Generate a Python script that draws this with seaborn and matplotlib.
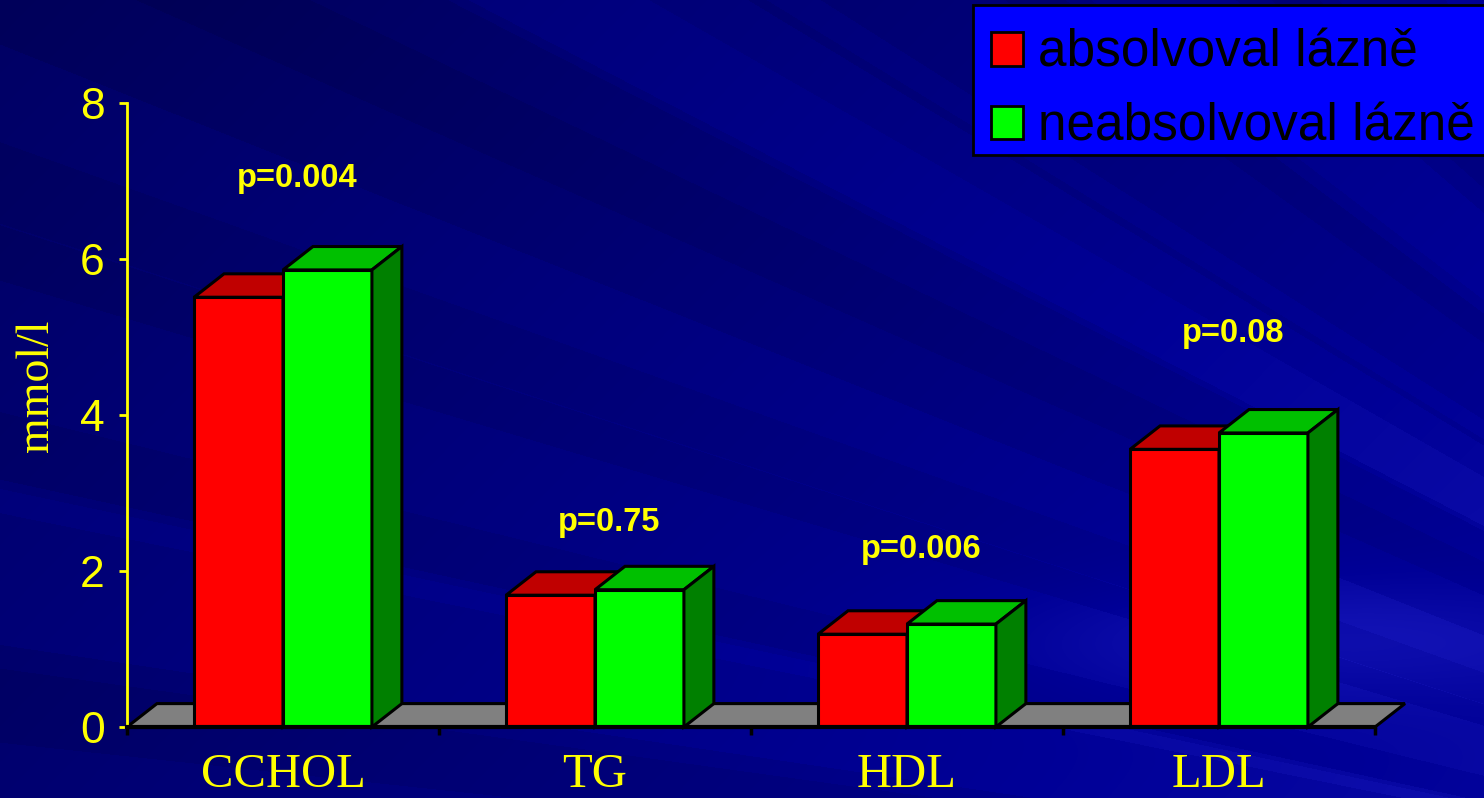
import numpy as np
import pandas as pd
import matplotlib
matplotlib.use('Agg')
import matplotlib.pyplot as plt
import seaborn as sns
from matplotlib.patches import Polygon, Patch, Rectangle

# values
categories = ['CCHOL', 'TG', 'HDL', 'LDL']
groups = ['absolvoval lázně', 'neabsolvoval lázně']
absolvoval = [5.51, 1.69, 1.19, 3.56]
neabsolvoval = [5.86, 1.76, 1.32, 3.77]
p_labels = ['p=0.004', 'p=0.75', 'p=0.006', 'p=0.08']
p_pos = [6.92, 2.51, 2.17, 4.94]
yticks = [0, 2, 4, 6, 8]

front = ['#FF0000', '#00FF00']
top = ['#C00000', '#00C000']
side = ['#800000', '#008000']
yellow = '#FFFF00'

df = pd.DataFrame({
    'param': categories * 2,
    'value': absolvoval + neabsolvoval,
    'group': [groups[0]] * 4 + [groups[1]] * 4,
})

sns.set_style('white')
plt.rcParams['font.family'] = ['Liberation Sans', 'DejaVu Sans']

W, H = 1484, 798
fig = plt.figure(figsize=(W / 100, H / 100), dpi=100)

# background: dark blue with diagonal streaks
yy, xx = np.mgrid[0:H, 0:W].astype(float)
theta = np.arctan2(1000 - yy, 2400 - xx)
bands = (np.sin(theta * 38 + 1.0) > 0.3) * 10 + (np.sin(theta * 23 + 2.2) > 0.5) * 9 - (np.sin(theta * 61 + 0.4) > 0.6) * 8
blue = 90 + 42 * (xx / W) + 22 * (yy / H) + bands
glow = np.exp(-(((xx - 1300) / 300) ** 2 + ((yy - 640) / 60) ** 2)) * 25
blue = np.clip(blue + glow, 0, 255)
rg = np.clip((blue - 150) * 0.6, 0, 255)
img = np.dstack([rg, rg, blue]) / 255
bg = fig.add_axes([0, 0, 1, 1], zorder=0)
bg.imshow(img, aspect='auto', extent=[0, 1, 0, 1])
bg.axis('off')

ax = fig.add_axes([127 / W, 71 / H, 1248 / W, 624 / H], zorder=1)
ax.patch.set_alpha(0)

sns.barplot(data=df, x='param', y='value', hue='group', palette=front,
            width=0.57, saturation=1, edgecolor='black', linewidth=2.2,
            legend=False, ax=ax)

ax.set_xlim(-0.5, 3.5)
ax.set_ylim(0, 8)

# pseudo-3D depth
dx, dy = 0.096, 0.3
ax.add_patch(Polygon([(-0.5, 0), (3.5, 0), (3.5 + dx, dy), (-0.5 + dx, dy)],
                     closed=True, facecolor='#808080', edgecolor='black',
                     linewidth=2.2, clip_on=False, zorder=1))
bars = list(ax.patches)[:8]
for k, p in enumerate(bars):
    g = 0 if k < 4 else 1
    x0, w, h = p.get_x(), p.get_width(), p.get_height()
    p.set_zorder(2 + 2 * g)
    ax.add_patch(Polygon([(x0, h), (x0 + w, h), (x0 + w + dx, h + dy), (x0 + dx, h + dy)],
                         closed=True, facecolor=top[g], edgecolor='black',
                         linewidth=2.2, zorder=2.5 + 2 * g, clip_on=False))
    ax.add_patch(Polygon([(x0 + w, 0), (x0 + w + dx, dy), (x0 + w + dx, h + dy), (x0 + w, h)],
                         closed=True, facecolor=side[g], edgecolor='black',
                         linewidth=2.2, zorder=2.5 + 2 * g, clip_on=False))

for i, (lab, yv) in enumerate(zip(p_labels, p_pos)):
    ax.text(i + 0.044, yv, lab, ha='center', va='baseline', fontsize=23.5,
            fontweight='bold', color=yellow, zorder=10)

# axes styling
for s in ['top', 'right']:
    ax.spines[s].set_visible(False)
ax.spines['left'].set_color(yellow)
ax.spines['left'].set_linewidth(2)
ax.spines['bottom'].set_color('black')
ax.spines['bottom'].set_linewidth(3)
ax.spines['bottom'].set_zorder(6)

ax.set_yticks(yticks)
ax.tick_params(axis='y', colors=yellow, length=6, width=2, labelsize=32, pad=10, left=True)
ax.set_xticks([-0.5, 0.5, 1.5, 2.5, 3.5])
ax.set_xticklabels([])
ax.set_xticks(range(4), minor=True)
ax.set_xticklabels(categories, minor=True, fontfamily='Liberation Serif')
ax.tick_params(axis='x', which='major', color='black', length=6, width=2.5, bottom=True)
ax.tick_params(axis='x', which='minor', length=0, labelsize=35, labelcolor=yellow, pad=19)
ax.set_xlabel('')
ax.set_ylabel('mmol/l', fontsize=33, color=yellow, fontfamily='Liberation Serif', va='center')
ax.yaxis.set_label_coords(-0.072, 0.546)

# legend box drawn separately so the rows can sit lower in it
fig.patches.append(Rectangle((973 / W, 1 - 155 / H), 520 / W, 150 / H,
                             transform=fig.transFigure, facecolor='#0000FF',
                             edgecolor='black', linewidth=2, zorder=15))
handles = [Patch(facecolor=c, edgecolor='black', linewidth=2) for c in front]
leg = fig.legend(handles, groups, loc='upper left', bbox_to_anchor=(973 / W, 1 - 11 / H),
                 bbox_transform=fig.transFigure, borderaxespad=0, fontsize=37,
                 handlelength=0.62, handleheight=0.62, handletextpad=0.3,
                 labelspacing=0.48, borderpad=0.35, frameon=False, labelcolor='black')
leg.set_zorder(20)

fig.savefig('out.png', dpi=100)
